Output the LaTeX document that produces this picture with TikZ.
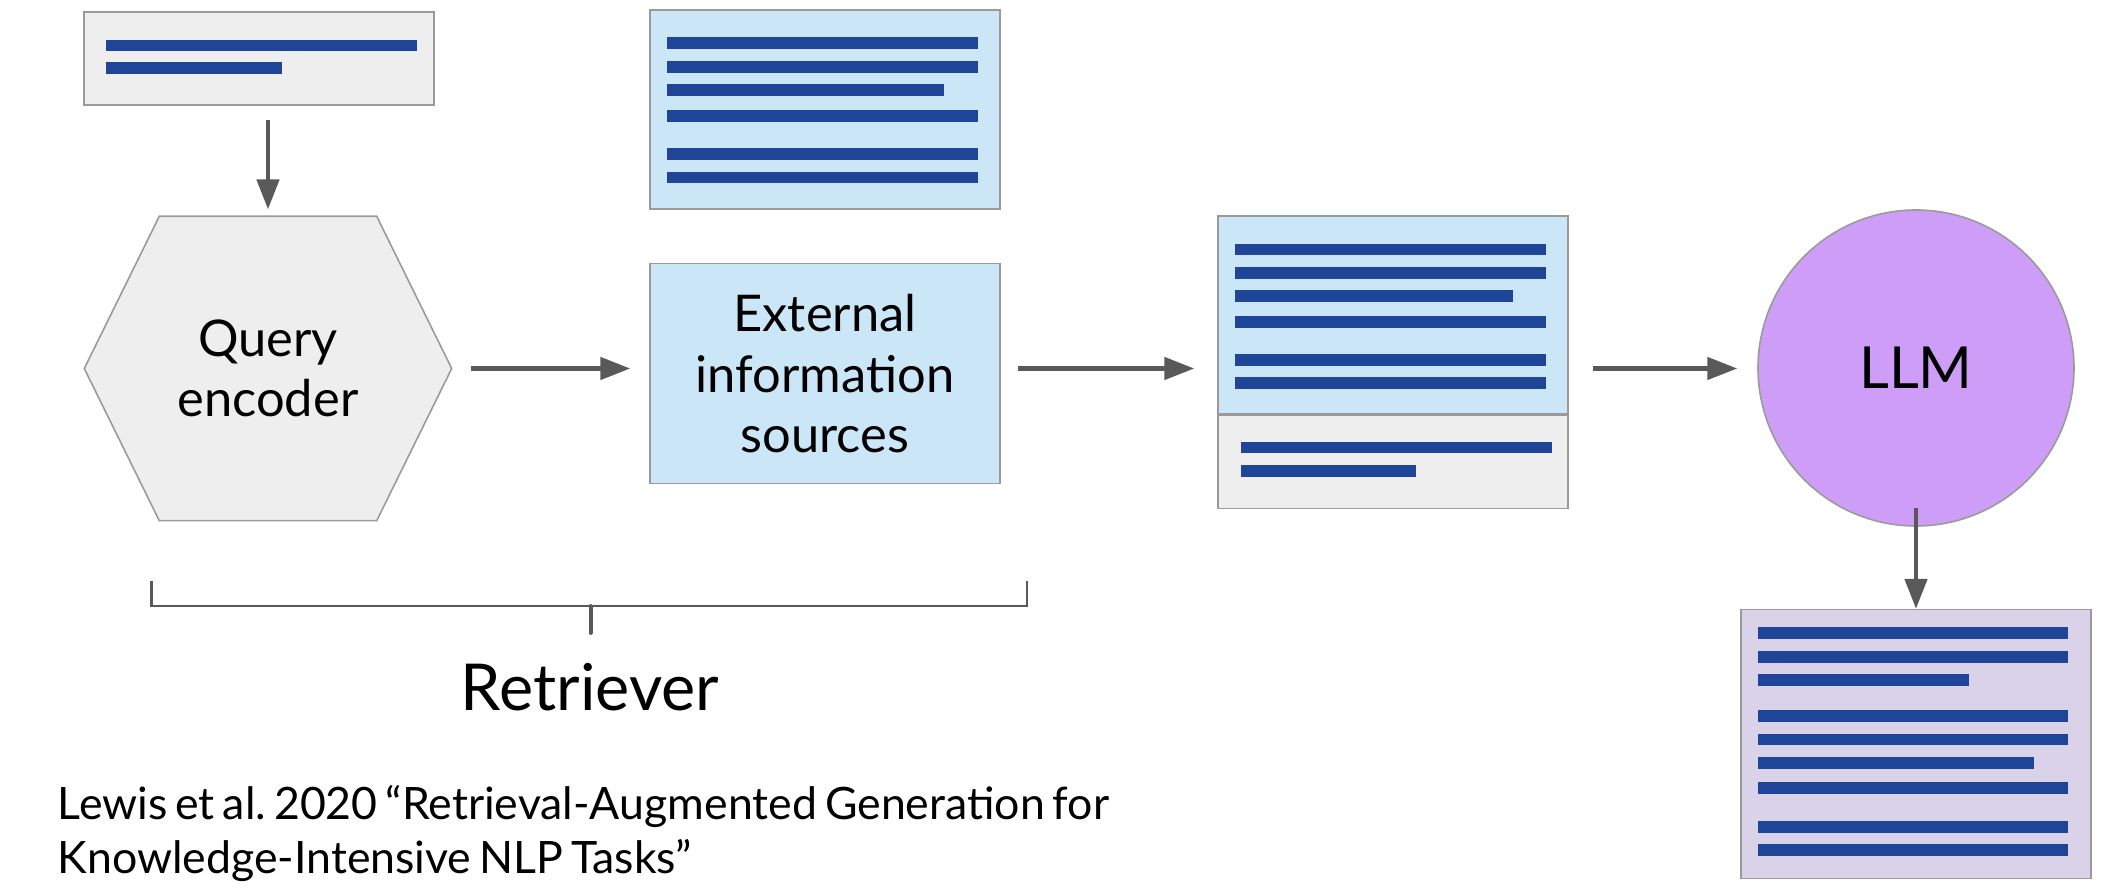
\documentclass[tikz,border=0pt]{standalone}
\usepackage{fontspec}
\setmainfont{Lato}
\newfontfamily\citefont[WordSpace=0.7]{Lato}
\usetikzlibrary{arrows.meta}
\usetikzlibrary{calc,positioning,backgrounds}

\definecolor{boxgray}{HTML}{EEEEEE}
\definecolor{boxblue}{HTML}{CAE6F7}
\definecolor{boxlilac}{HTML}{D9D2E9}
\definecolor{llmpurple}{HTML}{CD9DF8}
\definecolor{barblue}{HTML}{1F4599}
\definecolor{edgegray}{HTML}{9A9A9A}
\definecolor{arrowgray}{HTML}{595959}

\frenchspacing

\begin{document}
\begin{tikzpicture}[>={Triangle[length=8.5pt,width=6.3pt]},
    doc/.style={draw=edgegray, line width=0.45pt, minimum width=3.5cm, inner sep=0pt},
    bar/.style={barblue, line width=3.3pt},
    arr/.style={->, arrowgray, line width=1.2pt},
    boxtext/.style={align=center, font=\fontsize{14.4}{17.2}\selectfont}]

    \useasboundingbox (0,0) rectangle (21.12,-8.90);

    % documents
    \node[doc, fill=boxgray, minimum height=0.93cm] (query) at (2.59,-0.585) {};
    \node[doc, fill=boxblue, minimum height=1.99cm] (src) at (8.25,-1.095) {};
    \node[doc, fill=boxblue, minimum height=2.20cm, below=0.53cm of src, boxtext] (ext) {External\\information\\sources};
    \node[doc, fill=boxblue, minimum height=1.98cm] (ctxtop) at (13.93,-3.15) {};
    \node[doc, fill=boxgray, minimum height=0.93cm, below=0pt of ctxtop] (ctxbot) {};

    % encoder and model
    \node[boxtext, minimum width=3.66cm, minimum height=3.03cm, inner sep=0pt] (enc) at (2.68,-3.685) {Query\\encoder};
    \begin{scope}[on background layer]
        \draw[draw=edgegray, fill=boxgray, line width=0.45pt] (enc.west) -- ([xshift=0.75cm]enc.north west) -- ([xshift=-0.75cm]enc.north east)
            -- (enc.east) -- ([xshift=-0.75cm]enc.south east) -- ([xshift=0.75cm]enc.south west) -- cycle;
    \end{scope}
    \node[circle, draw=edgegray, fill=llmpurple, line width=0.45pt, minimum size=3.16cm, inner sep=0pt,
        font=\fontsize{16.5}{19}\selectfont] (llm) at (19.16,-3.68) {LLM};
    \node[doc, fill=boxlilac, minimum height=2.69cm, below=0.82cm of llm] (out) {};

    % text lines
    \foreach \y/\e in {-0.455/4.17, -0.68/2.82}
        \draw[bar] (1.06,\y) -- (\e,\y);
    \foreach \y/\e in {-0.43/9.78, -0.67/9.78, -0.903/9.44, -1.16/9.78, -1.54/9.78, -1.775/9.78}
        \draw[bar] (6.67,\y) -- (\e,\y);
    \foreach \y/\e in {-2.495/15.46, -2.73/15.46, -2.96/15.13, -3.22/15.46, -3.60/15.46, -3.83/15.46}
        \draw[bar] (12.35,\y) -- (\e,\y);
    \foreach \y/\e in {-4.477/15.52, -4.71/14.16}
        \draw[bar] (12.41,\y) -- (\e,\y);
    \foreach \y/\e in {-6.33/20.68, -6.57/20.68, -6.80/19.69, -7.16/20.68, -7.397/20.68, -7.63/20.34, -7.88/20.68, -8.27/20.68, -8.50/20.68}
        \draw[bar] (17.58,\y) -- (\e,\y);

    % arrows
    \draw[arr, shorten <=0.14cm, shorten >=0.07cm] (query.south -| enc) -- (enc.north);
    \draw[arr, shorten <=0.19cm, shorten >=0.19cm] (enc.east) -- (enc -| ext.west);
    \draw[arr, shorten <=0.17cm, shorten >=0.23cm] (ext.east |- enc) -- (enc -| ctxtop.west);
    \draw[arr, shorten <=0.24cm, shorten >=0.20cm] (ctxtop.east |- enc) -- (enc -| llm.west);
    \draw[arr, shorten <=-0.19cm] (llm.south) -- (out.north);

    % retriever bracket
    \coordinate (bl) at (1.515,-5.81);
    \coordinate (br) at (10.27,-5.81);
    \coordinate (bm) at (5.906,-6.06);
    \draw[arrowgray, line width=0.7pt] (bl) -- (bl |- bm) -- (br |- bm) -- (br);
    \draw[arrowgray, line width=1.1pt, line cap=round] (bm) -- ++(0,-0.27);
    \node[font=\fontsize{18.4}{21}\selectfont, anchor=base] (retr) at (5.90,-7.11) {Retriever};

    \node[anchor=north west, align=left, inner sep=0pt, font=\citefont\fontsize{12.7}{15.4}\selectfont] (cite) at (0.57,-7.85)
        {Lewis et al. 2020 “Retrieval-Augmented Generation for\\Knowledge-Intensive NLP Tasks”};

\end{tikzpicture}
\end{document}
